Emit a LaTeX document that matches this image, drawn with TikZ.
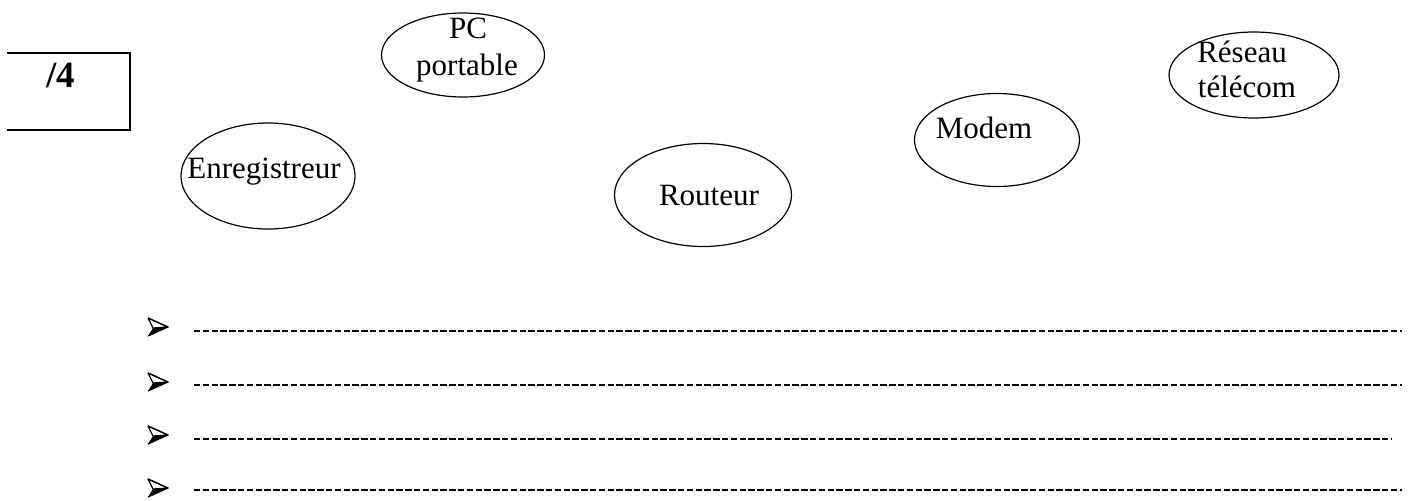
\documentclass[tikz,border=0pt]{standalone}
\usepackage{fontspec}
\setmainfont{Liberation Serif}[BoldFont={Liberation Serif Bold}]
\usetikzlibrary{shapes.geometric}
\begin{document}
\begin{tikzpicture}[x=0.5pt,y=-0.5pt,
  ell/.style={draw,ellipse,line width=0.6pt,inner sep=0pt},
  lbl/.style={anchor=base,inner sep=0pt,font=\fontsize{15.5}{18}\selectfont},
  dline/.style={line width=1.3pt,dash pattern=on 3.2pt off 1.2pt},
  bulfill/.style={fill=black,line width=0.4pt,line join=round},
  bullight/.style={draw=black,fill=white,line width=0.6pt,line join=round}]
\useasboundingbox (0,0) rectangle (1413,500);
% score box
\coordinate (b1) at (7,53);
\coordinate (b2) at (130,53);
\coordinate (b3) at (130,130);
\coordinate (b4) at (7,130);
\draw[line width=0.6pt] (b1) -- (b2) -- (b3) -- (b4);
\node[anchor=base,inner sep=0pt,font=\fontsize{18.5}{20}\selectfont\bfseries] (score) at (61,87) {/4};
% ellipses
\node[ell,minimum width=163pt*0.5,minimum height=84pt*0.5] (pc) at (463,55) {};
\node[lbl] (pct1) at (468,38) {PC};
\node[lbl] (pct2) at (467,75) {portable};
\node[ell,minimum width=174pt*0.5,minimum height=106pt*0.5] (enr) at (268,176) {};
\node[lbl] (enrt) at (264,178) {Enregistreur};
\node[ell,minimum width=177pt*0.5,minimum height=103pt*0.5] (rout) at (703,195) {};
\node[lbl] (routt) at (709,205) {Routeur};
\node[ell,minimum width=165pt*0.5,minimum height=93pt*0.5] (mod) at (997,140) {};
\node[lbl] (modt) at (984,138) {Modem};
\node[ell,minimum width=170pt*0.5,minimum height=86pt*0.5] (res) at (1254,75) {};
\node[lbl] (rest1) at (1242,62) {Réseau};
\node[lbl] (rest2) at (1247,97) {télécom};
% bullets (3D arrowheads)
\foreach \yy in {327,382,435,488}{
  \fill[bulfill] (148,\yy+9) -- (153,\yy+1) -- (168,\yy) -- cycle;
  \filldraw[bullight] (148,\yy-9) -- (168,\yy) -- (153,\yy+1) -- cycle;
  \draw[line width=0.6pt,line join=round] (148,\yy-9) -- (168,\yy) -- (148,\yy+9);
}
% answer lines
\coordinate (s1) at (194,331); \coordinate (e1) at (1402,331);
\coordinate (s2) at (194,385); \coordinate (e2) at (1402,385);
\coordinate (s3) at (194,439); \coordinate (e3) at (1391,439);
\coordinate (s4) at (194,490); \coordinate (e4) at (1402,490);
\draw[dline] (s1) -- (e1);
\draw[dline] (s2) -- (e2);
\draw[dline] (s3) -- (e3);
\draw[dline] (s4) -- (e4);
\end{tikzpicture}
\end{document}
